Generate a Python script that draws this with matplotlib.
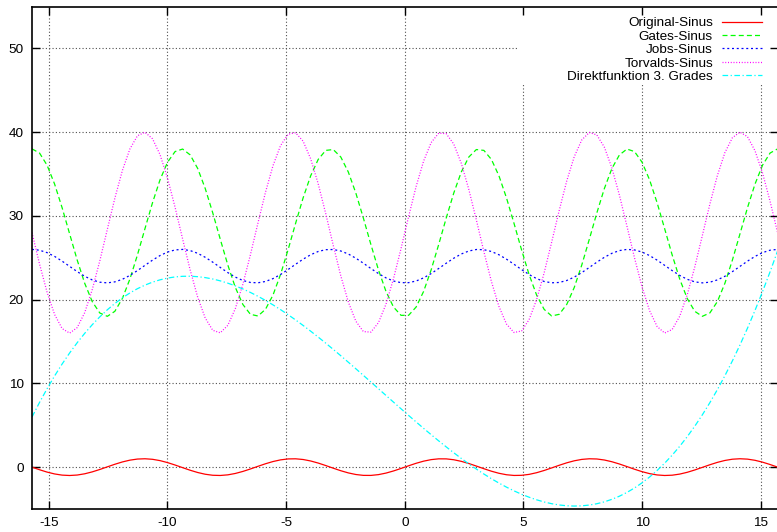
import numpy as np
import matplotlib
matplotlib.use('Agg')
import matplotlib.pyplot as plt
from matplotlib.patches import Rectangle

plt.rcParams['font.family'] = ['Liberation Sans', 'DejaVu Sans']
plt.rcParams['axes.unicode_minus'] = False

# ---- data (function parameters) ----
series_names = ['Original-Sinus', 'Gates-Sinus', 'Jobs-Sinus',
                'Torvalds-Sinus', 'Direktfunktion 3. Grades']
sine_offsets = [0.0, 28.0, 24.0, 28.0]
sine_amplitudes = [1.0, -10.0, -2.0, 12.0]
sine_phases = [0.0, np.pi / 2, np.pi / 2, 0.0]
cubic_coeffs = [0.01263, 0.0378, -2.485, 6.57]

x_range = [-5 * np.pi, 5 * np.pi]
y_range = [-5, 55]
x_ticks = [-15, -10, -5, 0, 5, 10, 15]
y_ticks = [0, 10, 20, 30, 40, 50]
n_samples = 100

# ---- styles ----
series_colors = ['#ff0000', '#00ff00', '#0000ff', '#ff00ff', '#00ffff']
series_styles = ['-', (0, (4, 2.5)), (0, (1.6, 2.2)), (0, (0.8, 1.4)),
                 (0, (4.5, 2, 1, 2))]

fig = plt.figure(figsize=(7.77, 5.32), dpi=100)
ax = fig.add_axes([32 / 777, 1 - 509 / 532, 745.6 / 777, 502.5 / 532])

x = np.linspace(x_range[0], x_range[1], n_samples)
handles = []
for i in range(4):
    y = sine_offsets[i] + sine_amplitudes[i] * np.sin(x + sine_phases[i])
    h, = ax.plot(x, y, color=series_colors[i], linestyle=series_styles[i],
                 lw=0.9, zorder=2)
    handles.append(h)
yc = np.polyval(cubic_coeffs, x)
h, = ax.plot(x, yc, color=series_colors[4], linestyle=series_styles[4],
             lw=0.9, zorder=2)
handles.append(h)

ax.set_xlim(x_range)
ax.set_ylim(y_range)
ax.set_xticks(x_ticks)
ax.set_yticks(y_ticks)

# grid (dotted), drawn below a white key box
ax.vlines(x_ticks, y_range[0], y_range[1], colors='#505050',
          linestyles=(0, (1, 2)), lw=0.8, zorder=1)
ax.hlines(y_ticks, x_range[0], x_range[1], colors='#505050',
          linestyles=(0, (1, 2)), lw=0.8, zorder=1)
ax.add_patch(Rectangle((0.652, 0.8438), 0.4, 0.2, transform=ax.transAxes,
                       facecolor='white', edgecolor='none', zorder=1.2))

ax.tick_params(direction='in', length=5.5, width=1.0, top=True, right=True,
               labelsize=9.7, pad=6, color='black')
for s in ax.spines.values():
    s.set_linewidth(1.2)
    s.set_zorder(3)

ax.legend(handles, series_names, loc='upper right',
          bbox_to_anchor=(762 / 777, 1 - 17 / 532),
          bbox_transform=fig.transFigure, frameon=False, markerfirst=False,
          borderpad=0, borderaxespad=0, handlelength=2.97,
          handletextpad=0.67, labelspacing=0.07, fontsize=9.7)

fig.savefig('out.png', dpi=100)
